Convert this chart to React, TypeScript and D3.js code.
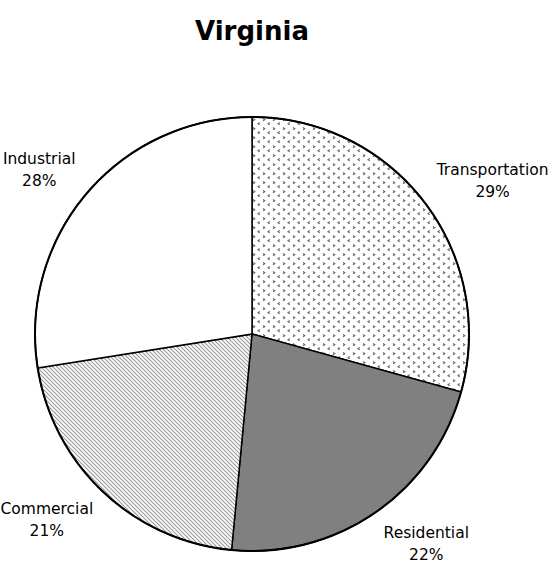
import React from "react";
import * as d3 from "d3";

const title = "Virginia";
const categories = ["Transportation", "Residential", "Commercial", "Industrial"];
const values = [29.3, 22.2, 21.0, 27.5];
const fills = ["url(#dots)", "#808080", "url(#hatch)", "#ffffff"];

const W = 552;
const H = 565;
const cx = 252;
const cy = 334;
const R = 217;
const FONT = "'DejaVu Sans', sans-serif";
const LABEL_SIZE = 15.5;
const LINE_H = 22;

function measure(text: string, font: string): number {
  if (typeof document === "undefined") return text.length * 8;
  const c = document.createElement("canvas");
  const ctx = c.getContext("2d");
  if (!ctx) return text.length * 8;
  ctx.font = font;
  return ctx.measureText(text).width;
}

export default function App() {
  const total = d3.sum(values);
  const pie = d3
    .pie<number>()
    .sort(null)
    .value((d) => d)
    .startAngle(0)
    .endAngle(2 * Math.PI);
  const arcs = pie(values);
  const arc = d3.arc<d3.PieArcDatum<number>>().innerRadius(0).outerRadius(R);

  return (
    <svg width={W} height={H} style={{ position: "absolute", left: 0, top: 0 }}>
      <defs>
        <pattern id="dots" width={10} height={9} patternUnits="userSpaceOnUse">
          <rect width={10} height={9} fill="#fff" />
          <path d="M1,0.5 L2.8,1.7 L1,2.9" stroke="#666" strokeWidth={1.1} fill="none" />
          <path d="M7.8,4.5 L6,5.7 L7.8,6.9" stroke="#666" strokeWidth={1.1} fill="none" />
        </pattern>
        <pattern id="hatch" width={4} height={4} patternUnits="userSpaceOnUse">
          <rect width={4} height={4} fill="#fff" />
          <path d="M-1,-1 L5,5 M-1,3 L1,5 M3,-1 L5,1" stroke="#999" strokeWidth={1.1} />
        </pattern>
      </defs>
      <rect width={W} height={H} fill="#fff" />
      <text
        x={cx}
        y={40}
        textAnchor="middle"
        fontFamily={FONT}
        fontWeight="bold"
        fontSize={26}
        fill="#000"
      >
        {title}
      </text>
      <g transform={`translate(${cx},${cy})`}>
        {arcs.map((a, i) => (
          <path key={i} d={arc(a) || ""} fill={fills[i]} stroke="#000" strokeWidth={1.5} />
        ))}
        <circle r={R} fill="none" stroke="#000" strokeWidth={2} />
        {arcs.map((a, i) => {
          const mid = (a.startAngle + a.endAngle) / 2;
          const s = Math.sin(mid);
          const c = -Math.cos(mid);
          const ar = R + 15;
          const ax = s * ar;
          const ay = c * ar;
          const pct = Math.round((values[i] / total) * 100) + "%";
          const w = Math.max(
            measure(categories[i], `${LABEL_SIZE}px ${FONT}`),
            measure(pct, `${LABEL_SIZE}px ${FONT}`)
          );
          const hw = w / 2;
          const hh = LINE_H;
          const lx = ax + Math.sign(s) * hw;
          const ly = ay + c * hh;
          return (
            <text
              key={"l" + i}
              textAnchor="middle"
              fontFamily={FONT}
              fontSize={LABEL_SIZE}
              fill="#000"
            >
              <tspan x={lx} y={ly - 5}>
                {categories[i]}
              </tspan>
              <tspan x={lx} y={ly - 5 + LINE_H}>
                {pct}
              </tspan>
            </text>
          );
        })}
      </g>
    </svg>
  );
}
